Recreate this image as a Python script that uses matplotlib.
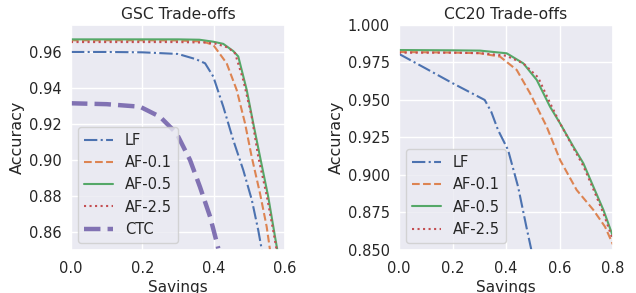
import matplotlib
matplotlib.use("Agg")
import matplotlib.pyplot as plt
import seaborn as sns

sns.set_theme(style="darkgrid")
plt.rcParams['font.family'] = ['DejaVu Sans']

# GSC trade-off curves (savings, accuracy)
gsc_lf_x = [0.0, 0.10, 0.20, 0.30, 0.35, 0.376, 0.399, 0.427, 0.455, 0.483, 0.507, 0.525, 0.535]
gsc_lf_y = [0.960, 0.960, 0.9598, 0.9589, 0.956, 0.9537, 0.9463, 0.9296, 0.911, 0.8944, 0.8778, 0.861, 0.850]
gsc_af01_x = [0.0, 0.10, 0.20, 0.30, 0.37, 0.399, 0.4365, 0.4646, 0.4879, 0.5066, 0.5299, 0.5486, 0.558]
gsc_af01_y = [0.9665, 0.9665, 0.9665, 0.9664, 0.9658, 0.9639, 0.9537, 0.9389, 0.9204, 0.9018, 0.8815, 0.863, 0.850]
gsc_af05_x = [0.0, 0.10, 0.20, 0.30, 0.36, 0.399, 0.427, 0.455, 0.469, 0.4926, 0.511, 0.530, 0.553, 0.572, 0.5785]
gsc_af05_y = [0.967, 0.967, 0.967, 0.967, 0.9668, 0.9657, 0.9645, 0.9605, 0.9575, 0.939, 0.9204, 0.9018, 0.8796, 0.8574, 0.850]
gsc_af25_x = [0.0, 0.10, 0.20, 0.30, 0.38, 0.408, 0.440, 0.460, 0.483, 0.5066, 0.525, 0.549, 0.570, 0.5766]
gsc_af25_y = [0.9655, 0.9655, 0.9655, 0.9655, 0.9652, 0.9645, 0.9625, 0.9593, 0.9444, 0.924, 0.9018, 0.880, 0.8574, 0.850]
gsc_ctc_x = [0.0, 0.10, 0.1935, 0.2496, 0.296, 0.3337, 0.3617, 0.390, 0.413]
gsc_ctc_y = [0.9315, 0.931, 0.9296, 0.924, 0.9148, 0.900, 0.885, 0.8685, 0.8509]

# CC20 trade-off curves
cc_lf_x = [0.0, 0.10, 0.20, 0.3203, 0.345, 0.370, 0.4075, 0.445, 0.476, 0.4947]
cc_lf_y = [0.9807, 0.9710, 0.9612, 0.950, 0.942, 0.930, 0.9167, 0.8922, 0.8655, 0.850]
cc_af01_x = [0.0, 0.10, 0.20, 0.30, 0.3776, 0.44, 0.49, 0.552, 0.602, 0.664, 0.7264, 0.77, 0.80]
cc_af01_y = [0.9820, 0.9818, 0.9816, 0.9812, 0.9789, 0.970, 0.9544, 0.9322, 0.910, 0.890, 0.8767, 0.8655, 0.8535]
cc_af05_x = [0.0, 0.10, 0.20, 0.303, 0.4026, 0.4647, 0.515, 0.5645, 0.602, 0.6516, 0.689, 0.7264, 0.764, 0.80]
cc_af05_y = [0.9833, 0.9832, 0.9831, 0.9829, 0.9811, 0.9744, 0.9633, 0.9455, 0.9344, 0.9189, 0.9078, 0.8922, 0.8767, 0.8589]
cc_af25_x = [0.0, 0.10, 0.20, 0.303, 0.40, 0.4647, 0.52, 0.5645, 0.602, 0.6516, 0.689, 0.7264, 0.764, 0.80]
cc_af25_y = [0.9815, 0.9815, 0.9815, 0.9812, 0.9795, 0.9744, 0.9650, 0.9480, 0.9344, 0.9180, 0.9060, 0.8905, 0.8745, 0.8565]

blue, orange, green, red, purple = sns.color_palette("deep")[:5]

fig = plt.figure(figsize=(6.36, 2.93), dpi=100)
ax1 = fig.add_axes([0.1116, 0.1468, 0.3365, 0.768])
ax2 = fig.add_axes([0.6274, 0.1468, 0.3365, 0.768])

ax1.plot(gsc_lf_x, gsc_lf_y, '-.', color=blue, lw=1.5, label='LF')
ax1.plot(gsc_af01_x, gsc_af01_y, '--', color=orange, lw=1.5, label='AF-0.1')
ax1.plot(gsc_af05_x, gsc_af05_y, '-', color=green, lw=1.5, label='AF-0.5')
ax1.plot(gsc_af25_x, gsc_af25_y, ':', color=red, lw=1.5, label='AF-2.5')
ax1.plot(gsc_ctc_x, gsc_ctc_y, '--', color=purple, lw=3.2, label='CTC')
ax1.set_xlim(0, 0.6)
ax1.set_ylim(0.85, 0.975)
ax1.set_xticks([0.0, 0.2, 0.4, 0.6])

ax2.plot(cc_lf_x, cc_lf_y, '-.', color=blue, lw=1.5, label='LF')
ax2.plot(cc_af01_x, cc_af01_y, '--', color=orange, lw=1.5, label='AF-0.1')
ax2.plot(cc_af05_x, cc_af05_y, '-', color=green, lw=1.5, label='AF-0.5')
ax2.plot(cc_af25_x, cc_af25_y, ':', color=red, lw=1.5, label='AF-2.5')
ax2.set_xlim(0, 0.8)
ax2.set_ylim(0.85, 1.0)
ax2.set_xticks([0.0, 0.2, 0.4, 0.6, 0.8])
ax2.set_yticks([0.85, 0.875, 0.9, 0.925, 0.95, 0.975, 1.0])
ax2.set_yticklabels(['0.850', '0.875', '0.900', '0.925', '0.950', '0.975', '1.000'])

for ax, title in [(ax1, 'GSC Trade-offs'), (ax2, 'CC20 Trade-offs')]:
    ax.set_title(title, fontsize=11.2, pad=4)
    ax.set_xlabel('Savings', fontsize=11, labelpad=2.5)
    ax.set_ylabel('Accuracy', fontsize=11.5, labelpad=3)
    ax.tick_params(axis='y', labelsize=10.5, length=0, pad=6.5)
    ax.tick_params(axis='x', labelsize=10.5, length=0, pad=8)
    ax.legend(loc='lower left', fontsize=10.5)

fig.savefig('out.png', dpi=100)
